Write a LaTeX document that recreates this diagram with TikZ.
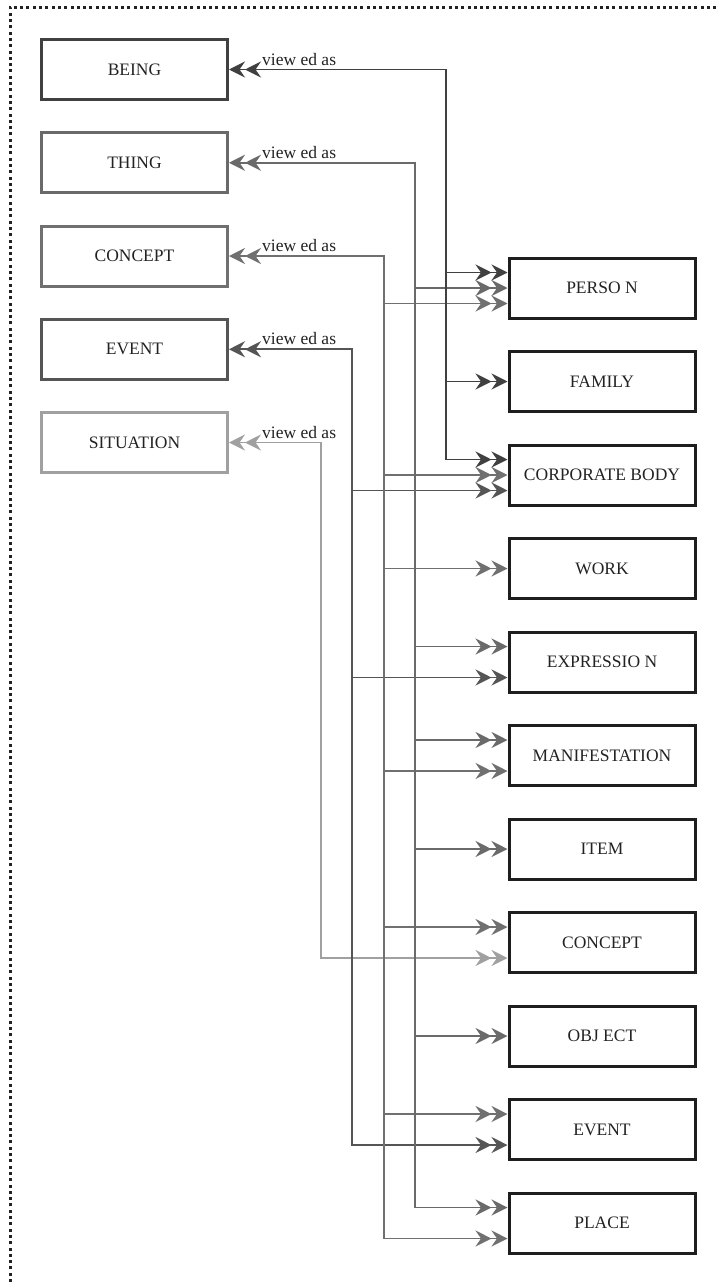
\documentclass[tikz,border=0pt]{standalone}
\usepackage{fontspec}
\setmainfont{Liberation Serif}
\usetikzlibrary{arrows.meta,calc}
\definecolor{txt}{HTML}{222222}
\definecolor{rb}{HTML}{1E1E1E}
\definecolor{cB}{HTML}{404040}
\definecolor{cT}{HTML}{6A6A6A}
\definecolor{cC}{HTML}{707070}
\definecolor{cE}{HTML}{555555}
\definecolor{cS}{HTML}{A0A0A0}
\begin{document}
\begin{tikzpicture}[x=1pt,y=-1pt,
  >={Stealth[length=16pt,width=16pt,inset=5.5pt]},
  lbox/.style={draw, line width=3pt, minimum width=186pt, minimum height=60pt, inner sep=0pt,
    font=\fontsize{17.5}{20}\selectfont, text=txt},
  rbox/.style={lbox, draw=rb},
  conn/.style={line width=1.6pt},
  lab/.style={anchor=base west, inner sep=0pt, font=\fontsize{17.5}{20}\selectfont, text=txt},
  frame/.style={line width=3pt, dash pattern=on 3pt off 3.3pt, draw=txt}]
\useasboundingbox (0,0) rectangle (719,1282);
\draw[frame] (10,1282) -- (10,7) -- (719,7);

% left boxes
\node[lbox, draw=cB] (being) at (134.5,69.5) {BEING};
\node[lbox, draw=cT] (thing) at (134.5,162.75) {THING};
\node[lbox, draw=cC] (concept) at (134.5,256) {CONCEPT};
\node[lbox, draw=cE] (event) at (134.5,349.25) {EVENT};
\node[lbox, draw=cS] (situation) at (134.5,442.5) {SITUATION};

% right boxes
\node[rbox] (person) at (602,288) {PERSO N};
\node[rbox] (family) at (602,381.5) {FAMILY};
\node[rbox] (corp) at (602,475) {CORPORATE BODY};
\node[rbox] (work) at (602,568.5) {WORK};
\node[rbox] (expr) at (602,662) {EXPRESSIO N};
\node[rbox] (manif) at (602,755.5) {MANIFESTATION};
\node[rbox] (item) at (602,849) {ITEM};
\node[rbox] (concept2) at (602,942.5) {CONCEPT};
\node[rbox] (object) at (602,1036) {OBJ ECT};
\node[rbox] (event2) at (602,1129.5) {EVENT};
\node[rbox] (place) at (602,1223) {PLACE};

\foreach \n in {person,family,corp,work,expr,manif,item,concept2,object,event2,place}{
  \coordinate (\n-u) at ([yshift=15.5pt]\n.west);
  \coordinate (\n-d) at ([yshift=-15.5pt]\n.west);
}

% trunks
\coordinate (tB) at (446,0);
\coordinate (tT) at (415,0);
\coordinate (tC) at (384,0);
\coordinate (tE) at (352,0);
\coordinate (tS) at (321,0);

% labels
\foreach \n in {being,thing,concept,event,situation}{
  \node[lab] (\n-lab) at ($(\n.east)+(33,-4.5)$) {view ed as};
}

% SITUATION
\draw[conn, draw=cS, <<->>] (situation.east) -| (tS |- concept2-d) -- (concept2-d);

% EVENT
\draw[conn, draw=cE, <<->>] (event.east) -| (tE |- event2-d) -- (event2-d);
\draw[conn, draw=cE, ->>] (tE |- corp-d) -- (corp-d);
\draw[conn, draw=cE, ->>] (tE |- expr-d) -- (expr-d);

% CONCEPT
\draw[conn, draw=cC, <<->>] (concept.east) -| (tC |- place-d) -- (place-d);
\draw[conn, draw=cC, ->>] (tC |- person-d) -- (person-d);
\draw[conn, draw=cC, ->>] (tC |- corp.west) -- (corp.west);
\draw[conn, draw=cC, ->>] (tC |- work.west) -- (work.west);
\draw[conn, draw=cC, ->>] (tC |- manif-d) -- (manif-d);
\draw[conn, draw=cC, ->>] (tC |- concept2-u) -- (concept2-u);
\draw[conn, draw=cC, ->>] (tC |- event2-u) -- (event2-u);

% THING
\draw[conn, draw=cT, <<->>] (thing.east) -| (tT |- place-u) -- (place-u);
\draw[conn, draw=cT, ->>] (tT |- person.west) -- (person.west);
\draw[conn, draw=cT, ->>] (tT |- expr-u) -- (expr-u);
\draw[conn, draw=cT, ->>] (tT |- manif-u) -- (manif-u);
\draw[conn, draw=cT, ->>] (tT |- item.west) -- (item.west);
\draw[conn, draw=cT, ->>] (tT |- object.west) -- (object.west);

% BEING
\draw[conn, draw=cB, <<->>] (being.east) -| (tB |- corp-u) -- (corp-u);
\draw[conn, draw=cB, ->>] (tB |- person-u) -- (person-u);
\draw[conn, draw=cB, ->>] (tB |- family.west) -- (family.west);
\end{tikzpicture}
\end{document}
